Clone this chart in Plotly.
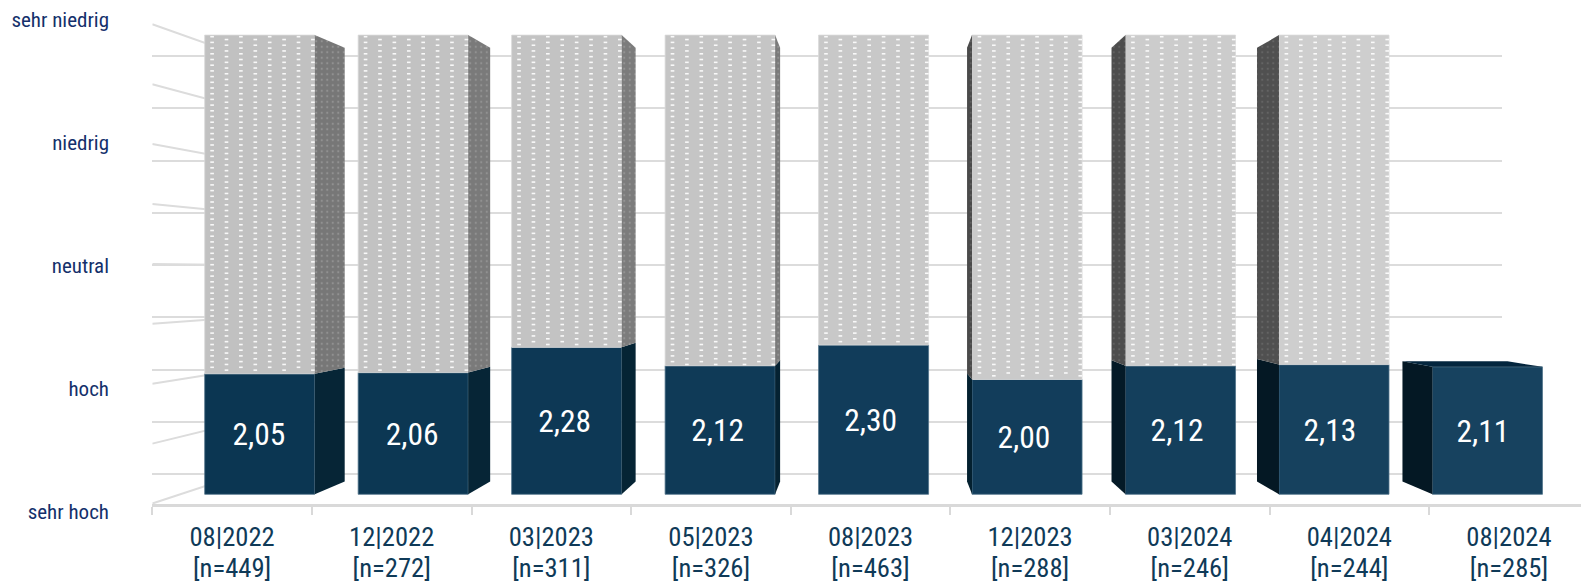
import numpy as np
import plotly.graph_objects as go

# ---------- data ----------
categories = ["08|2022", "12|2022", "03|2023", "05|2023", "08|2023", "12|2023", "03|2024", "04|2024", "08|2024"]
sample_labels = ["[n=449]", "[n=272]", "[n=311]", "[n=326]", "[n=463]", "[n=288]", "[n=246]", "[n=244]", "[n=285]"]
values = [2.05, 2.06, 2.28, 2.12, 2.30, 2.00, 2.12, 2.13, 2.11]
value_labels = ["2,05", "2,06", "2,28", "2,12", "2,30", "2,00", "2,12", "2,13", "2,11"]
has_remainder = [True, True, True, True, True, True, True, True, False]
scale_values = [1, 2, 3, 4, 5]
scale_labels = ["sehr hoch", "hoch", "neutral", "niedrig", "sehr niedrig"]

# ---------- styles ----------
W, H = 1581, 583
blue = ["#0b3652", "#0c3753", "#0d3855", "#0f3a57", "#113c5a", "#123d5b", "#143f5c", "#16415e", "#17425f"]
gray = ["#c1c1c1", "#c2c2c2", "#c3c3c3", "#c5c5c5", "#c8c8c8", "#cacaca", "#cccccc", "#cecece", "#d0d0d0"]
side_blue = ["#062536", "#062536", "#052434", "#052232", "#05202f", "#03202f", "#041a27", "#041824", "#041824"]
side_gray = ["#777777", "#7a7a7a", "#7c7c7c", "#7a7a7a", "#666666", "#4a4a4a", "#4d4d4d", "#505050", "#505050"]
side_dot = ["#929292", "#929292", "#949494", "#929292", "#808080", "#5e5e5e", "#616161", "#646464", "#646464"]
depth_px = [30, 22, 14, 5, 0, -5, -14, -22, -30]
text_shift_px = [-0.7, -1, -2, -2.5, -3, -3.2, -3.5, -4, -4.6]
FONT = "'Roboto Condensed', 'Liberation Sans Narrow', Roboto, sans-serif"

# geometry of the planes (pixels)
STEP, X0, BAR_W = 153.47, 259.7, 110.0
FRONT_BOTTOM, FRONT_UNIT = 494.3, 114.8
BACK_BOTTOM, BACK_UNIT = 474.0, 104.5
BACK_L, BACK_R = 242.0, 1502.0
WALL_BOTTOM, WALL_UNIT = 503.5, 119.8
LABEL_BOTTOM, LABEL_UNIT = 511.8, 123.1
AXIS_Y, AXIS_L, CAT_W = 504.0, 152.3, 159.6
r = 0.0553
TEXT_DROP_PX = 3.5


def yrange(bottom, unit):
    return [1 + (bottom - H) / unit, 1 + bottom / unit]


fig = go.Figure()
idx = list(range(len(categories)))
half = BAR_W / STEP / 2


def back(v):
    return 3 + (v - 3) * (1 - r)


# back wall: native gridlines
fig.add_trace(go.Scatter(x=[0, 1], y=[1, 1], xaxis="x", yaxis="y", mode="none", showlegend=False, hoverinfo="skip"))

# left wall lines
half_steps = np.arange(1, 5.01, 0.5)
for v in half_steps:
    wall_px = WALL_BOTTOM - (v - 1) * WALL_UNIT
    wall_v = 1 + (BACK_BOTTOM - wall_px) / BACK_UNIT
    fig.add_trace(go.Scatter(x=[0, 1], y=[wall_v, v], xaxis="x2", yaxis="y", mode="lines",
                             line=dict(color="#dcdcdc", width=2), showlegend=False, hoverinfo="skip"))

# bars (front plane): height above the scale floor of 1
fig.add_trace(go.Bar(x=idx, y=[v - 1 for v in values], base=[1] * len(values), xaxis="x3", yaxis="y3", width=BAR_W / STEP,
                     marker=dict(color=blue, line=dict(color="#4f7289", width=0.8)),
                     showlegend=False, hoverinfo="skip"))
rem_x = [i for i in idx if has_remainder[i]]
fig.add_trace(go.Bar(x=rem_x, y=[5 - values[i] for i in rem_x], base=[values[i] for i in rem_x], xaxis="x3", yaxis="y3",
                     width=BAR_W / STEP, marker=dict(color=[gray[i] for i in rem_x], line=dict(color="#d9d9d9", width=0.8)),
                     showlegend=False, hoverinfo="skip"))

# side faces + top face
for i in idx:
    d = depth_px[i] / STEP
    if d != 0:
        xe = i + half if d > 0 else i - half
        xs = [xe, xe + d, xe + d, xe, xe]
        v = values[i]
        fig.add_trace(go.Scatter(x=xs, y=[1, back(1), back(v), v, 1], xaxis="x3", yaxis="y3", mode="lines",
                                 fill="toself", fillcolor=side_blue[i], line=dict(width=0),
                                 showlegend=False, hoverinfo="skip"))
        if has_remainder[i]:
            fig.add_trace(go.Scatter(x=xs, y=[v, back(v), back(5), 5, v], xaxis="x3", yaxis="y3", mode="lines",
                                     fill="toself", fillcolor=side_gray[i], line=dict(width=0),
                                     fillpattern=dict(shape=".", size=5.5, solidity=0.12, fgcolor=side_dot[i], bgcolor=side_gray[i]),
                                     showlegend=False, hoverinfo="skip"))
    if not has_remainder[i]:
        v = values[i]
        xl, xr = i - half, i + half
        fig.add_trace(go.Scatter(x=[xl, xl + d, xr - 35 / STEP, xr, xl], y=[v, back(v), back(v), v, v],
                                 xaxis="x3", yaxis="y3", mode="lines", fill="toself", fillcolor="#04263e",
                                 line=dict(width=0), showlegend=False, hoverinfo="skip"))

# dotted texture of the remainder bars
tx, ty = [], []
for i in rem_x:
    for c in range(8):
        col_x = i - half + (7.4 + 14.4 * c) / STEP
        rows = np.arange(36.7 + (2.85 if c % 2 else 0), FRONT_BOTTOM - (values[i] - 1) * FRONT_UNIT - 1, 5.7)
        for py in rows:
            tx.append(col_x)
            ty.append(1 + (FRONT_BOTTOM - py) / FRONT_UNIT)
fig.add_trace(go.Scatter(x=tx, y=ty, xaxis="x3", yaxis="y3", mode="markers",
                         marker=dict(symbol="line-ew", size=2.6, color="white", opacity=0.9,
                                     line=dict(color="white", width=1.6)),
                         showlegend=False, hoverinfo="skip"))

# value labels, centred in the blue block
fig.add_trace(go.Scatter(x=[i + s / STEP for i, s in zip(idx, text_shift_px)],
                         y=[(1 + v) / 2 - TEXT_DROP_PX / FRONT_UNIT for v in values],
                         xaxis="x3", yaxis="y3", mode="text", text=value_labels, textposition="middle center",
                         textfont=dict(family=FONT, size=31.5, color="white"), showlegend=False, hoverinfo="skip"))

# category axis + sample sizes + scale labels
fig.add_trace(go.Scatter(x=categories, y=[0] * len(categories), xaxis="x4", yaxis="y4", mode="none",
                         showlegend=False, hoverinfo="skip"))
fig.add_trace(go.Scatter(x=sample_labels, y=[0] * len(categories), xaxis="x5", yaxis="y4", mode="none",
                         showlegend=False, hoverinfo="skip"))
fig.add_trace(go.Scatter(x=[0] * 5, y=scale_values, xaxis="x2", yaxis="y5", mode="none",
                         showlegend=False, hoverinfo="skip"))

hidden = dict(visible=False, fixedrange=True, automargin=False)
cat_range = [-0.5, -0.5 + (W - AXIS_L) / CAT_W]
fig.update_layout(
    template="none",
    width=W, height=H, autosize=False, margin=dict(l=0, r=0, t=0, b=0, pad=0),
    paper_bgcolor="white", plot_bgcolor="rgba(0,0,0,0)", showlegend=False, barmode="overlay",
    xaxis=dict(domain=[BACK_L / W, BACK_R / W], range=[0, 1], showgrid=False, zeroline=False, showticklabels=False, ticks="", showline=False, automargin=False),
    yaxis=dict(domain=[0, 1], range=yrange(BACK_BOTTOM, BACK_UNIT), tickvals=list(half_steps), showgrid=True,
               gridcolor="#dcdcdc", gridwidth=2, zeroline=False, showticklabels=False, ticks="", showline=False, automargin=False),
    xaxis2=dict(domain=[AXIS_L / W, BACK_L / W], range=[0, 1], anchor="y", **hidden),
    xaxis3=dict(domain=[0, 1], range=[-X0 / STEP, (W - X0) / STEP], anchor="y3", **hidden),
    yaxis3=dict(domain=[0, 1], range=yrange(FRONT_BOTTOM, FRONT_UNIT), anchor="x3", **hidden),
    xaxis4=dict(domain=[AXIS_L / W, 1], anchor="y4", type="category", categoryorder="array", categoryarray=categories,
                range=cat_range, tickson="boundaries", ticks="outside", ticklen=8, tickwidth=1.5, tickcolor="#d9d9d9",
                showline=True, linecolor="#d9d9d9", linewidth=2.7, showgrid=False, zeroline=False, automargin=False,
                ticklabelstandoff=7, tickfont=dict(family=FONT, size=26.6, color="#0f3a58"), tickangle=0),
    xaxis5=dict(domain=[AXIS_L / W, 1], anchor="y4", overlaying="x4", type="category", categoryorder="array", categoryarray=sample_labels,
                range=cat_range, ticks="", showline=False, showgrid=False, zeroline=False, automargin=False,
                ticklabelstandoff=45, tickfont=dict(family=FONT, size=26.6, color="#0f3a58"), tickangle=0),
    yaxis4=dict(domain=[(H - AXIS_Y) / H, 1], range=[0, 1], anchor="x4", **hidden),
    yaxis5=dict(domain=[0, 1], range=yrange(LABEL_BOTTOM, LABEL_UNIT), anchor="free", position=109 / W,
                side="left", tickvals=scale_values, ticktext=scale_labels, ticks="", showgrid=False, zeroline=False,
                showline=False, automargin=False,
                tickfont=dict(family=FONT, size=21, color="#14306b")),
)

fig.write_html("out.html", config=dict(displayModeBar=False), post_script="document.body.style.margin='0';")
